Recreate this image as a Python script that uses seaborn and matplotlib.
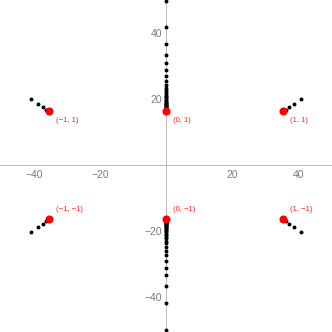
import numpy as np
import matplotlib.pyplot as plt
import seaborn as sns
from matplotlib.ticker import MultipleLocator, FixedLocator

# red points (labelled) and their labels
red_x = [-35.5, 0.0, 35.5, -35.5, 0.0, 35.5]
red_y = [16.4, 16.4, 16.4, -16.4, -16.4, -16.4]
red_labels = ["(\u22121, 1)", "(0, 1)", "(1, 1)", "(\u22121, \u22121)", "(0, \u22121)", "(1, \u22121)"]

# black dots on the diagonal arms
diag_x = [-40.9, -38.8, -37.3, -36.3,
          40.9, 38.8, 37.3, 36.3,
          -40.9, -38.8, -37.3, -36.3,
          40.9, 38.8, 37.3, 36.3]
diag_y = [20.2, 18.6, 17.6, 16.9,
          20.2, 18.6, 17.6, 16.9,
          -20.3, -18.7, -17.7, -16.9,
          -20.3, -18.7, -17.7, -16.9]

# black dots on the vertical column (x = 0)
col_up = [49.8, 41.8, 36.8, 33.5, 31.0, 28.8, 27.1, 25.6, 24.4, 23.5, 22.7,
          22.1, 21.6, 21.1, 20.7, 20.3, 19.9, 19.6, 19.3, 19.0, 18.7, 18.5,
          18.3, 18.1, 17.9, 17.7, 17.5, 17.4, 17.2, 17.1, 17.0, 16.9, 16.8]
col_down = [-50.0, -41.8, -36.7, -33.3, -31.0, -29.0, -27.3, -25.9, -24.6, -23.6,
            -22.8, -22.1, -21.6, -21.1, -20.7, -20.3, -19.9, -19.6, -19.3, -19.0,
            -18.7, -18.5, -18.3, -18.1, -17.9, -17.7, -17.5, -17.4, -17.2, -17.1,
            -17.0, -16.9, -16.8]

sns.set_style("white")
plt.rcParams['font.family'] = ['Liberation Sans', 'DejaVu Sans']

fig = plt.figure(figsize=(3.32, 3.32), dpi=100)
ax = fig.add_axes([0, 0, 1, 1])

col_y = col_up + col_down
col_x = [0.0] * len(col_y)
sns.scatterplot(x=diag_x + col_x, y=diag_y + col_y, ax=ax, color="black",
                s=8, linewidth=0, zorder=3)
sns.scatterplot(x=red_x, y=red_y, ax=ax, color="#ff0000", s=34,
                linewidth=0, zorder=4)

for x, y, lab in zip(red_x, red_y, red_labels):
    dy = -7 if y > 0 else 7
    ax.annotate(lab, (x, y), xytext=(5, dy), textcoords="offset points",
                color="#ff2020", fontsize=5.5, ha="left", va="center")

ax.set_xlim(-50.3, 50.3)
ax.set_ylim(-50.5, 50.1)
ax.set_aspect("equal")

for side in ["top", "right"]:
    ax.spines[side].set_visible(False)
for side in ["left", "bottom"]:
    ax.spines[side].set_position("zero")
    ax.spines[side].set_color("#b8b8b8")
    ax.spines[side].set_linewidth(0.7)

ax.xaxis.set_major_locator(FixedLocator([-40, -20, 20, 40]))
ax.yaxis.set_major_locator(FixedLocator([-40, -20, 20, 40]))
ax.xaxis.set_minor_locator(MultipleLocator(5))
ax.yaxis.set_minor_locator(MultipleLocator(5))
ax.tick_params(which="major", direction="in", length=3, width=0.6,
               color="#b8b8b8", labelsize=7.5, labelcolor="#7a7a7a", pad=3)
ax.tick_params(which="minor", direction="in", length=1.8, width=0.5,
               color="#c8c8c8")

fig.savefig("out.png", dpi=100)
